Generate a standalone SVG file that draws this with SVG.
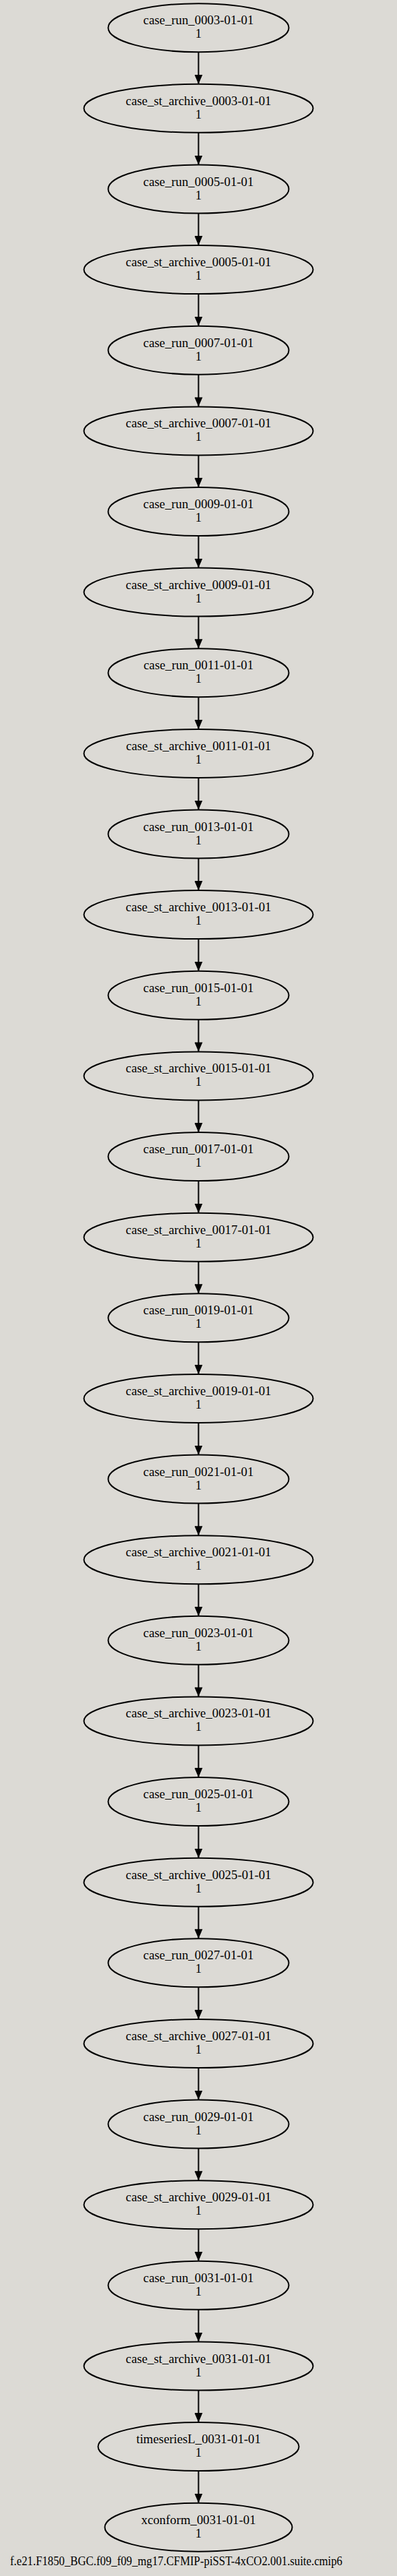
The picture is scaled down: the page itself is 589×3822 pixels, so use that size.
<svg xmlns="http://www.w3.org/2000/svg" width="589" height="3822" viewBox="0 0 589 3822">
<style>
.n ellipse{fill:none;stroke:#000;stroke-width:2}
.n text,.lbl{font-family:"Liberation Serif","Times New Roman",serif;font-size:18.8px;fill:#000;text-anchor:middle}
.lbl{text-anchor:start}
.e line{stroke:#000;stroke-width:2;marker-end:url(#ah)}
</style>
<defs>
<marker id="ah" markerUnits="userSpaceOnUse" markerWidth="14" markerHeight="12" refX="14" refY="6" orient="auto"><path d="M0,0L14,6L0,12z" fill="#000"/></marker>
</defs>
<rect width="589" height="3822" fill="#dcdad5"/>
<g id="edges" class="e">
<line x1="294.5" y1="77.2" x2="294.5" y2="124.8"/>
<line x1="294.5" y1="196.8" x2="294.5" y2="244.5"/>
<line x1="294.5" y1="316.5" x2="294.5" y2="364.1"/>
<line x1="294.5" y1="436.1" x2="294.5" y2="483.7"/>
<line x1="294.5" y1="555.7" x2="294.5" y2="603.4"/>
<line x1="294.5" y1="675.4" x2="294.5" y2="723.0"/>
<line x1="294.5" y1="795.0" x2="294.5" y2="842.6"/>
<line x1="294.5" y1="914.6" x2="294.5" y2="962.2"/>
<line x1="294.5" y1="1034.2" x2="294.5" y2="1081.9"/>
<line x1="294.5" y1="1153.9" x2="294.5" y2="1201.5"/>
<line x1="294.5" y1="1273.5" x2="294.5" y2="1321.1"/>
<line x1="294.5" y1="1393.1" x2="294.5" y2="1440.8"/>
<line x1="294.5" y1="1512.8" x2="294.5" y2="1560.4"/>
<line x1="294.5" y1="1632.4" x2="294.5" y2="1680.0"/>
<line x1="294.5" y1="1752.0" x2="294.5" y2="1799.7"/>
<line x1="294.5" y1="1871.7" x2="294.5" y2="1919.3"/>
<line x1="294.5" y1="1991.3" x2="294.5" y2="2038.9"/>
<line x1="294.5" y1="2110.9" x2="294.5" y2="2158.5"/>
<line x1="294.5" y1="2230.5" x2="294.5" y2="2278.2"/>
<line x1="294.5" y1="2350.2" x2="294.5" y2="2397.8"/>
<line x1="294.5" y1="2469.8" x2="294.5" y2="2517.4"/>
<line x1="294.5" y1="2589.4" x2="294.5" y2="2637.1"/>
<line x1="294.5" y1="2709.1" x2="294.5" y2="2756.7"/>
<line x1="294.5" y1="2828.7" x2="294.5" y2="2876.3"/>
<line x1="294.5" y1="2948.3" x2="294.5" y2="2996.0"/>
<line x1="294.5" y1="3068.0" x2="294.5" y2="3115.6"/>
<line x1="294.5" y1="3187.6" x2="294.5" y2="3235.2"/>
<line x1="294.5" y1="3307.2" x2="294.5" y2="3354.8"/>
<line x1="294.5" y1="3426.8" x2="294.5" y2="3474.5"/>
<line x1="294.5" y1="3546.5" x2="294.5" y2="3594.1"/>
<line x1="294.5" y1="3666.1" x2="294.5" y2="3713.7"/>
</g>
<g id="n0" class="n" transform="translate(294.5,41.2)"><ellipse rx="134" ry="36"/><text y="-5">case_run_0003-01-01</text><text y="15">1</text></g>
<g id="n1" class="n" transform="translate(294.5,160.8)"><ellipse rx="170" ry="36"/><text y="-5">case_st_archive_0003-01-01</text><text y="15">1</text></g>
<g id="n2" class="n" transform="translate(294.5,280.5)"><ellipse rx="134" ry="36"/><text y="-5">case_run_0005-01-01</text><text y="15">1</text></g>
<g id="n3" class="n" transform="translate(294.5,400.1)"><ellipse rx="170" ry="36"/><text y="-5">case_st_archive_0005-01-01</text><text y="15">1</text></g>
<g id="n4" class="n" transform="translate(294.5,519.7)"><ellipse rx="134" ry="36"/><text y="-5">case_run_0007-01-01</text><text y="15">1</text></g>
<g id="n5" class="n" transform="translate(294.5,639.4)"><ellipse rx="170" ry="36"/><text y="-5">case_st_archive_0007-01-01</text><text y="15">1</text></g>
<g id="n6" class="n" transform="translate(294.5,759.0)"><ellipse rx="134" ry="36"/><text y="-5">case_run_0009-01-01</text><text y="15">1</text></g>
<g id="n7" class="n" transform="translate(294.5,878.6)"><ellipse rx="170" ry="36"/><text y="-5">case_st_archive_0009-01-01</text><text y="15">1</text></g>
<g id="n8" class="n" transform="translate(294.5,998.2)"><ellipse rx="134" ry="36"/><text y="-5">case_run_0011-01-01</text><text y="15">1</text></g>
<g id="n9" class="n" transform="translate(294.5,1117.9)"><ellipse rx="170" ry="36"/><text y="-5">case_st_archive_0011-01-01</text><text y="15">1</text></g>
<g id="n10" class="n" transform="translate(294.5,1237.5)"><ellipse rx="134" ry="36"/><text y="-5">case_run_0013-01-01</text><text y="15">1</text></g>
<g id="n11" class="n" transform="translate(294.5,1357.1)"><ellipse rx="170" ry="36"/><text y="-5">case_st_archive_0013-01-01</text><text y="15">1</text></g>
<g id="n12" class="n" transform="translate(294.5,1476.8)"><ellipse rx="134" ry="36"/><text y="-5">case_run_0015-01-01</text><text y="15">1</text></g>
<g id="n13" class="n" transform="translate(294.5,1596.4)"><ellipse rx="170" ry="36"/><text y="-5">case_st_archive_0015-01-01</text><text y="15">1</text></g>
<g id="n14" class="n" transform="translate(294.5,1716.0)"><ellipse rx="134" ry="36"/><text y="-5">case_run_0017-01-01</text><text y="15">1</text></g>
<g id="n15" class="n" transform="translate(294.5,1835.7)"><ellipse rx="170" ry="36"/><text y="-5">case_st_archive_0017-01-01</text><text y="15">1</text></g>
<g id="n16" class="n" transform="translate(294.5,1955.3)"><ellipse rx="134" ry="36"/><text y="-5">case_run_0019-01-01</text><text y="15">1</text></g>
<g id="n17" class="n" transform="translate(294.5,2074.9)"><ellipse rx="170" ry="36"/><text y="-5">case_st_archive_0019-01-01</text><text y="15">1</text></g>
<g id="n18" class="n" transform="translate(294.5,2194.5)"><ellipse rx="134" ry="36"/><text y="-5">case_run_0021-01-01</text><text y="15">1</text></g>
<g id="n19" class="n" transform="translate(294.5,2314.2)"><ellipse rx="170" ry="36"/><text y="-5">case_st_archive_0021-01-01</text><text y="15">1</text></g>
<g id="n20" class="n" transform="translate(294.5,2433.8)"><ellipse rx="134" ry="36"/><text y="-5">case_run_0023-01-01</text><text y="15">1</text></g>
<g id="n21" class="n" transform="translate(294.5,2553.4)"><ellipse rx="170" ry="36"/><text y="-5">case_st_archive_0023-01-01</text><text y="15">1</text></g>
<g id="n22" class="n" transform="translate(294.5,2673.1)"><ellipse rx="134" ry="36"/><text y="-5">case_run_0025-01-01</text><text y="15">1</text></g>
<g id="n23" class="n" transform="translate(294.5,2792.7)"><ellipse rx="170" ry="36"/><text y="-5">case_st_archive_0025-01-01</text><text y="15">1</text></g>
<g id="n24" class="n" transform="translate(294.5,2912.3)"><ellipse rx="134" ry="36"/><text y="-5">case_run_0027-01-01</text><text y="15">1</text></g>
<g id="n25" class="n" transform="translate(294.5,3032.0)"><ellipse rx="170" ry="36"/><text y="-5">case_st_archive_0027-01-01</text><text y="15">1</text></g>
<g id="n26" class="n" transform="translate(294.5,3151.6)"><ellipse rx="134" ry="36"/><text y="-5">case_run_0029-01-01</text><text y="15">1</text></g>
<g id="n27" class="n" transform="translate(294.5,3271.2)"><ellipse rx="170" ry="36"/><text y="-5">case_st_archive_0029-01-01</text><text y="15">1</text></g>
<g id="n28" class="n" transform="translate(294.5,3390.8)"><ellipse rx="134" ry="36"/><text y="-5">case_run_0031-01-01</text><text y="15">1</text></g>
<g id="n29" class="n" transform="translate(294.5,3510.5)"><ellipse rx="170" ry="36"/><text y="-5">case_st_archive_0031-01-01</text><text y="15">1</text></g>
<g id="n30" class="n" transform="translate(294.5,3630.1)"><ellipse rx="149" ry="36"/><text y="-5">timeseriesL_0031-01-01</text><text y="15">1</text></g>
<g id="n31" class="n" transform="translate(294.5,3749.7)"><ellipse rx="139" ry="36"/><text y="-5">xconform_0031-01-01</text><text y="15">1</text></g>
<text class="lbl" x="15" y="3806" textLength="493" lengthAdjust="spacingAndGlyphs">f.e21.F1850_BGC.f09_f09_mg17.CFMIP-piSST-4xCO2.001.suite.cmip6</text>
</svg>
